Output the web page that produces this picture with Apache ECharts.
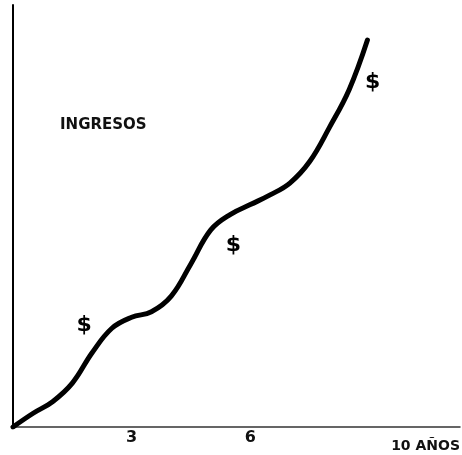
<!DOCTYPE html>
<html>
<head>
<meta charset="utf-8">
<script src="https://cdn.jsdelivr.net/npm/echarts@6/dist/echarts.min.js"></script>
<style>html,body{margin:0;padding:0;background:#fff}#c{width:462px;height:455px}</style>
</head>
<body>
<div id="c"></div>
<script>
// Years (x) and income (y, arbitrary units)
const years  = [0, 0.5, 1.0, 1.5, 2.0, 2.5, 3.0, 3.5, 4.0, 4.5, 5.0, 5.5, 6.0, 6.5, 7.0, 7.5, 8.0, 8.5, 8.96];
const income = [0, 3.2, 6.0, 10.4, 17.6, 23.4, 26.0, 27.3, 31.0, 38.7, 46.7, 50.4, 52.7, 55.0, 57.8, 62.9, 71.0, 80.0, 91.7];
// "$" annotations
const dollarX = [1.80, 5.57, 9.09];
const dollarY = [24.2, 43.1, 81.8];
const dollarText = ['$', '$', '$'];
// Tick labels
const tickValues = [3, 6, 10];
const tickLabels = ['3', '6', '10 AÑOS'];
const yTitle = 'INGRESOS';

const font = '"DejaVu Sans", sans-serif';
const chart = echarts.init(document.getElementById('c'));
chart.setOption({
  animation: false,
  backgroundColor: '#fff',
  title: {
    text: yTitle, left: 55, top: 113,
    textStyle: { fontFamily: font, fontSize: 15, fontWeight: 'bold', color: '#111' }
  },
  grid: { left: 13, right: 2, top: 5, bottom: 28, containLabel: false, outerBoundsMode: 'none' },
  xAxis: {
    type: 'value', min: 0, max: 11.3,
    axisLine: { show: true, lineStyle: { color: '#333', width: 1.5 } },
    axisTick: { show: false },
    splitLine: { show: false },
    axisLabel: {
      customValues: tickValues,
      showMinLabel: true, showMaxLabel: true,
      margin: 3,
      fontFamily: font, fontSize: 16, fontWeight: 'bold', color: '#111',
      formatter: function (v) {
        const i = tickValues.indexOf(v);
        if (i === tickLabels.length - 1) return '{last|' + tickLabels[i] + '}';
        return tickLabels[i];
      },
      rich: { last: { fontFamily: font, fontSize: 14, fontWeight: 'bold', color: '#111', padding: [9, 0, 0, 34] } }
    }
  },
  yAxis: {
    type: 'value', min: 0, max: 100,
    axisLine: { show: true, lineStyle: { color: '#000', width: 2 } },
    axisTick: { show: false },
    axisLabel: { show: false },
    splitLine: { show: false }
  },
  series: [
    {
      type: 'line',
      data: years.map((x, i) => [x, income[i]]),
      smooth: 0.4,
      symbol: 'none',
      lineStyle: { color: '#000', width: 5, cap: 'round', join: 'round' }
    },
    {
      type: 'scatter',
      data: dollarX.map((x, i) => [x, dollarY[i]]),
      symbolSize: 1,
      itemStyle: { color: '#fff', opacity: 0 },
      label: {
        show: true, position: 'inside',
        formatter: p => dollarText[p.dataIndex],
        fontFamily: font, fontSize: 22, fontWeight: 'bold', color: '#000', opacity: 1,
        textBorderWidth: 0
      }
    }
  ]
});
</script>
</body>
</html>
